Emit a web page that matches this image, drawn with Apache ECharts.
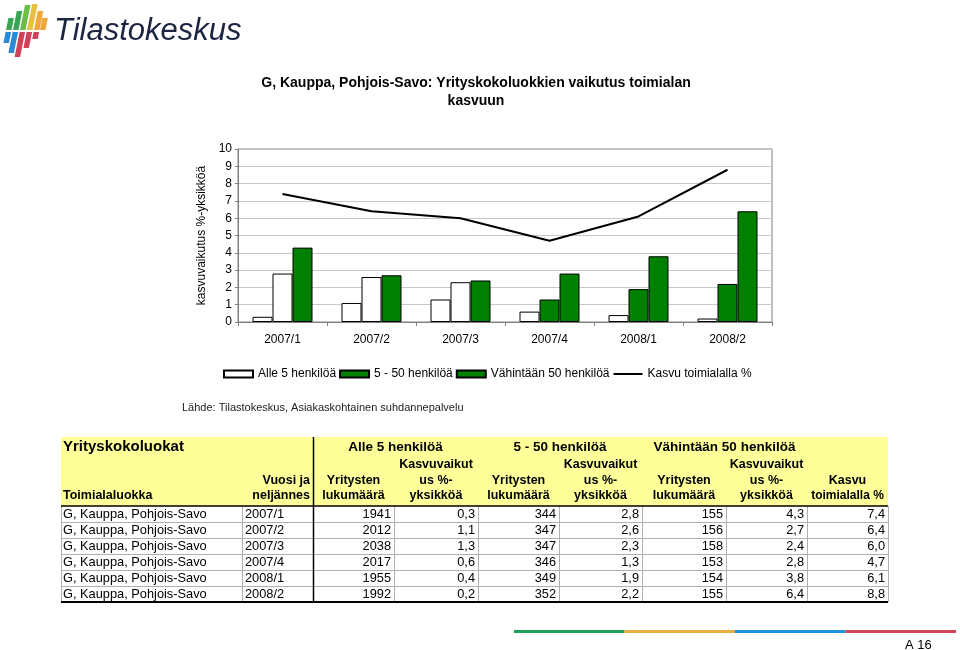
<!DOCTYPE html>
<html>
<head>
<meta charset="utf-8">
<script src="https://cdn.jsdelivr.net/npm/echarts@6/dist/echarts.min.js"></script>
<style>
html,body{margin:0;padding:0;background:#fff;}
#c{width:960px;height:650px;}
</style>
</head>
<body>
<div id="c"></div>
<script>
// ---- data ----
const categories = ['2007/1', '2007/2', '2007/3', '2007/4', '2008/1', '2008/2'];
const alle5 = [0.3, 1.1, 1.3, 0.6, 0.4, 0.2];
const v5to50 = [2.8, 2.6, 2.3, 1.3, 1.9, 2.2];
const v50 = [4.3, 2.7, 2.4, 2.8, 3.8, 6.4];
const kasvu = [7.4, 6.4, 6.0, 4.7, 6.1, 8.8];
const count5 = [1941, 2012, 2038, 2017, 1955, 1992];
const count5to50 = [344, 347, 347, 346, 349, 352];
const count50 = [155, 156, 158, 153, 154, 155];
const regionName = 'G, Kauppa, Pohjois-Savo';
const seriesNames = ['Alle 5 henkilöä', '5 - 50 henkilöä', 'Vähintään 50 henkilöä', 'Kasvu toimialalla %'];
const yTicks = [0, 1, 2, 3, 4, 5, 6, 7, 8, 9, 10];

const FONT = '"Liberation Sans", Arial, sans-serif';
const GREEN = '#008000';
const fmt = v => v.toFixed(1).replace('.', ',');

const chart = echarts.init(document.getElementById('c'), null, {renderer: 'canvas'});

// ---- graphic: logo, table, footer ----
const g = [];
function txt(text, x, y, opt) {
  opt = opt || {};
  const size = opt.size || 12;
  const weight = opt.bold ? 'bold ' : '';
  const style = opt.italic ? 'italic ' : '';
  g.push({
    type: 'text', silent: true, z: 10,
    style: {
      text: text, x: x, y: y,
      font: style + weight + size + 'px ' + FONT,
      fill: opt.color || '#000',
      align: opt.align || 'left', textAlign: opt.align || 'left',
      verticalAlign: 'middle', textVerticalAlign: 'middle'
    }
  });
}
function line(x1, y1, x2, y2, color, w) {
  g.push({type: 'line', silent: true, z: 5, shape: {x1, y1, x2, y2}, style: {stroke: color, lineWidth: w}});
}
function rect(x, y, w, h, fill, z) {
  g.push({type: 'rect', silent: true, z: z || 1, shape: {x, y, width: w, height: h}, style: {fill: fill}});
}

// logo stripes
const stripes = [
  {x: 3, top: 18, bot: 43, c1: '#3aa655', c2: '#2a8ad8'},
  {x: 10, top: 11, bot: 53, c1: '#3aa655', c2: '#2a8ad8'},
  {x: 17, top: 5, bot: 57, c1: '#6cbc48', c2: '#d04058'},
  {x: 24, top: 4, bot: 48, c1: '#e8c040', c2: '#d04058'},
  {x: 31, top: 11, bot: 39, c1: '#f0a838', c2: '#d04058'},
  {x: 37, top: 18, bot: 32, c1: '#f0a838', c2: null}
];
const slant = 0.2, sw = 5.5, mid = 31;
stripes.forEach(s => {
  const px = y => s.x + (45 - y) * slant;
  g.push({type: 'polygon', silent: true, shape: {points: [[px(s.top), s.top], [px(s.top) + sw, s.top], [px(mid - 1) + sw, mid - 1], [px(mid - 1), mid - 1]]}, style: {fill: s.c1}});
  if (s.c2) g.push({type: 'polygon', silent: true, shape: {points: [[px(mid + 1), mid + 1], [px(mid + 1) + sw, mid + 1], [px(s.bot) + sw, s.bot], [px(s.bot), s.bot]]}, style: {fill: s.c2}});
});
txt('Tilastokeskus', 54, 31, {size: 31, italic: true, color: '#1c2540'});

// title
txt('G, Kauppa, Pohjois-Savo: Yrityskokoluokkien vaikutus toimialan', 476, 83, {size: 14, bold: true, align: 'center'});
txt('kasvuun', 476, 101, {size: 14, bold: true, align: 'center'});

// source
txt('Lähde: Tilastokeskus, Asiakaskohtainen suhdannepalvelu', 182, 408, {size: 11, color: '#222'});

// table
const cols = [61, 242, 313, 394, 478, 559, 642, 726, 807, 888];
const headTop = 437, headBot = 506, rowH = 16;
rect(cols[0], headTop, cols[9] - cols[0], headBot - headTop, '#ffff99', 1);
txt('Yrityskokoluokat', 63, 447, {size: 15, bold: true});
const groupHeads = ['Alle 5 henkilöä', '5 - 50 henkilöä', 'Vähintään 50 henkilöä'];
groupHeads.forEach((h, i) => {
  const c = (cols[2 + 2 * i] + cols[4 + 2 * i]) / 2;
  txt(h, c, 447, {size: 13.5, bold: true, align: 'center'});
  const k = (cols[3 + 2 * i] + cols[4 + 2 * i]) / 2;
  txt('Kasvuvaikut', k, 465, {size: 12.5, bold: true, align: 'center'});
  txt('us %-', k, 481, {size: 12.5, bold: true, align: 'center'});
  txt('yksikköä', k, 496, {size: 12.5, bold: true, align: 'center'});
  const l = (cols[2 + 2 * i] + cols[3 + 2 * i]) / 2;
  txt('Yritysten', l, 481, {size: 12.5, bold: true, align: 'center'});
  txt('lukumäärä', l, 496, {size: 12.5, bold: true, align: 'center'});
});
txt('Vuosi ja', cols[2] - 3, 481, {size: 12.5, bold: true, align: 'right'});
txt('neljännes', cols[2] - 3, 496, {size: 12.5, bold: true, align: 'right'});
txt('Toimialaluokka', 63, 496, {size: 12.5, bold: true});
txt('Kasvu', (cols[8] + cols[9]) / 2, 481, {size: 12.5, bold: true, align: 'center'});
txt('toimialalla %', (cols[8] + cols[9]) / 2, 496, {size: 12, bold: true, align: 'center'});

categories.forEach((q, r) => {
  const yc = headBot + rowH * r + rowH / 2 + 0.5;
  txt(regionName, 63, yc, {size: 12.8});
  txt(q, cols[1] + 3, yc, {size: 12.8});
  const vals = [String(count5[r]), fmt(alle5[r]), String(count5to50[r]), fmt(v5to50[r]), String(count50[r]), fmt(v50[r]), fmt(kasvu[r])];
  vals.forEach((v, j) => txt(v, cols[3 + j] - 3, yc, {size: 12.8, align: 'right'}));
  if (r > 0) line(cols[0], headBot + rowH * r + 0.5, cols[9], headBot + rowH * r + 0.5, '#b0b0b0', 1);
});
const tableBot = headBot + rowH * categories.length;
[0, 1, 3, 4, 5, 6, 7, 8, 9].forEach(i => line(cols[i] + 0.5, headBot, cols[i] + 0.5, tableBot, '#b0b0b0', 1));
line(cols[2] + 0.5, headTop, cols[2] + 0.5, tableBot, '#000', 1.5);
line(cols[0], headBot, cols[9], headBot, '#000', 1.5);
line(cols[0], tableBot, cols[9], tableBot, '#000', 2);

// footer strip
const stripCols = ['#1d9e5a', '#e8b040', '#1e90e0', '#d24858'];
stripCols.forEach((c, i) => rect(514 + i * 110.5, 630, 110.5, 3, c, 2));
txt('A 16', 905, 645, {size: 13, align: 'left'});

// ---- chart ----
const option = {
  animation: false,
  textStyle: {fontFamily: FONT},
  grid: {left: 238, right: 188, top: 149, bottom: 328, show: true, borderColor: '#808080', borderWidth: 1, containLabel: false},
  legend: {
    left: 218, top: 363, itemWidth: 29, itemHeight: 7, itemGap: 3,
    textStyle: {fontSize: 12, color: '#000', fontFamily: FONT},
    data: [
      {name: seriesNames[0], icon: 'rect'},
      {name: seriesNames[1], icon: 'rect'},
      {name: seriesNames[2], icon: 'rect'},
      {name: seriesNames[3], itemStyle: {color: 'rgba(0,0,0,0)', borderWidth: 0, borderColor: 'rgba(0,0,0,0)'}}
    ]
  },
  xAxis: {
    type: 'category', data: categories, boundaryGap: true,
    axisLine: {lineStyle: {color: '#808080'}},
    axisTick: {show: true, alignWithLabel: false, lineStyle: {color: '#808080'}, length: 4},
    axisLabel: {color: '#000', fontSize: 12, margin: 12, fontFamily: FONT}
  },
  yAxis: {
    type: 'value', min: yTicks[0], max: yTicks[yTicks.length - 1], interval: 1,
    name: 'kasvuvaikutus %-yksikköä', nameLocation: 'middle', nameGap: 29, nameRotate: 90,
    nameTextStyle: {fontSize: 12, color: '#000', fontFamily: FONT},
    axisLine: {show: true, lineStyle: {color: '#808080'}},
    axisTick: {show: true, length: 3, lineStyle: {color: '#808080'}},
    axisLabel: {color: '#000', fontSize: 12, margin: 6, fontFamily: FONT},
    splitLine: {lineStyle: {color: '#c8c8c8'}}
  },
  series: [
    {name: seriesNames[0], type: 'bar', data: alle5, barWidth: 20, barGap: '0%',
      itemStyle: {color: '#ffffff', borderColor: '#000', borderWidth: 1}},
    {name: seriesNames[1], type: 'bar', data: v5to50.map((v, i) => i < 3 ? {value: v, itemStyle: {color: '#ffffff'}} : v), barWidth: 20, barGap: '0%',
      itemStyle: {color: GREEN, borderColor: '#000', borderWidth: 1}},
    {name: seriesNames[2], type: 'bar', data: v50, barWidth: 20, barGap: '0%',
      itemStyle: {color: GREEN, borderColor: '#000', borderWidth: 1}},
    {name: seriesNames[3], type: 'line', data: kasvu, symbol: 'none', smooth: false,
      lineStyle: {color: '#000', width: 2}, itemStyle: {color: '#000'}, z: 5}
  ],
  graphic: g
};
chart.setOption(option);
</script>
</body>
</html>
